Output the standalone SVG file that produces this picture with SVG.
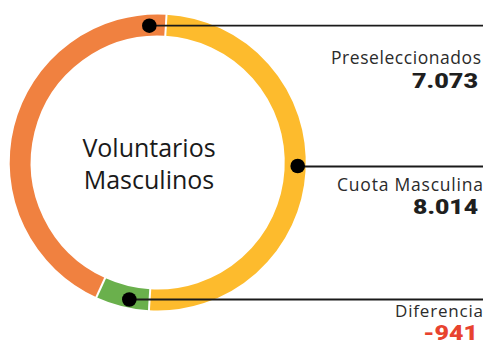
<svg xmlns="http://www.w3.org/2000/svg" width="485" height="345" viewBox="0 0 485 345">
<style>
.seg{fill:none;stroke-width:21}
.seam{stroke:#fff;stroke-width:2}
.dot{fill:#000}
.lead{stroke:#1a1a1a;stroke-width:1.8;fill:none}
.lbl{font-family:"Open Sans","Noto Sans",sans-serif;font-size:17.5px;fill:#2b2b2b;text-anchor:end}
.num{font-family:Roboto,"Liberation Sans",sans-serif;font-weight:900;font-size:21px;fill:#1f1f1f;text-anchor:end}
.ctr{font-family:"Open Sans","Noto Sans",sans-serif;font-size:25px;fill:#1a1a1a;text-anchor:middle}
</style>
<rect width="485" height="345" fill="#fff"/>
<g id="ring">
<path id="seg-cuota" class="seg" stroke="#fdbb2d" d="M165.90 25.24 A137.5 137.5 0 0 1 149.60 299.76"/>
<path id="seg-diferencia" class="seg" stroke="#6ab04c" d="M149.60 299.76 A137.5 137.5 0 0 1 100.73 287.63"/>
<path id="seg-preseleccionados" class="seg" stroke="#f08140" d="M100.73 287.63 A137.5 137.5 0 0 1 165.90 25.24"/>
<line class="seam" x1="165.16" y1="37.72" x2="166.65" y2="12.76"/>
<line class="seam" x1="150.34" y1="287.28" x2="148.85" y2="312.24"/>
<line class="seam" x1="105.91" y1="276.25" x2="95.54" y2="299.0"/>
</g>
<g id="center-label">
<text class="ctr" x="149" y="157">Voluntarios</text>
<text class="ctr" x="149" y="189">Masculinos</text>
</g>
<g id="connectors">
<line class="lead" x1="149.3" y1="25.7" x2="483" y2="25.7"/>
<line class="lead" x1="297.7" y1="166.5" x2="483" y2="166.5"/>
<line class="lead" x1="129.3" y1="299.5" x2="483" y2="299.5"/>
<circle class="dot" cx="149.3" cy="25.7" r="7.3"/>
<circle class="dot" cx="297.7" cy="166" r="7.3"/>
<circle class="dot" cx="129.3" cy="299.5" r="7.3"/>
</g>
<g id="node-preseleccionados">
<text class="lbl" x="481" y="63.5" textLength="150" lengthAdjust="spacing">Preseleccionados</text>
<text class="num" transform="translate(478 87.5) scale(1.2 1)" x="0" y="0">7.073</text>
</g>
<g id="node-cuota">
<text class="lbl" x="483" y="190.5" textLength="146" lengthAdjust="spacing">Cuota Masculina</text>
<text class="num" transform="translate(478 214) scale(1.18 1)" x="0" y="0">8.014</text>
</g>
<g id="node-diferencia">
<text class="lbl" x="483" y="316.5" textLength="88" lengthAdjust="spacing" style="font-size:17px">Diferencia</text>
<text class="num" transform="translate(478 340) scale(1.25 1)" x="0" y="0" style="fill:#e8432f;font-size:20px">-941</text>
</g>
</svg>
